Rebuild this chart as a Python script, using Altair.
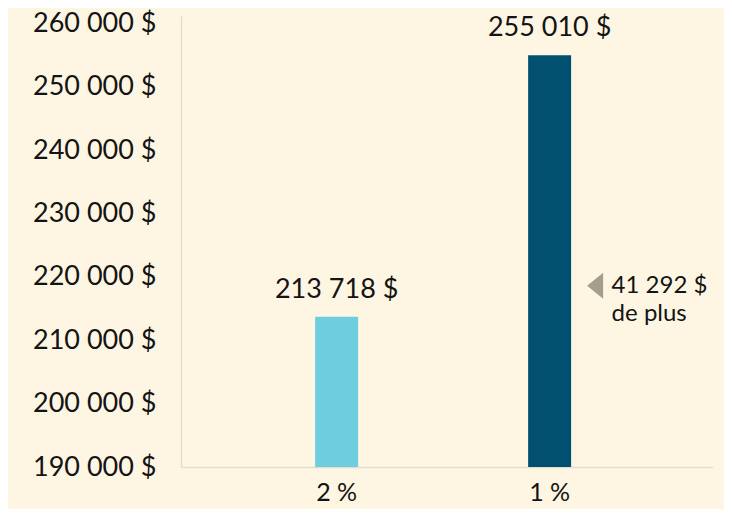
import altair as alt
import pandas as pd

categories = ["2 %", "1 %"]
values = [213718, 255010]
colors = ["#6FCDE0", "#02506F"]
y_ticks = [190000, 200000, 210000, 220000, 230000, 240000, 250000, 260000]
annot_value = 218600
annot_lines = ["41 292 $", "de plus"]

def fmt(v):
    return f"{v:,}".replace(",", " ") + " $"

df = pd.DataFrame({
    "cat": categories,
    "value": values,
    "label": [fmt(v) for v in values],
    "color": colors,
})

ann = pd.DataFrame({"cat": [categories[1]], "value": [annot_value]})

FONT = "Lato"
TXT = "#141414"
AXC = "#E3DDCF"

x_enc = alt.X("cat:N", sort=categories, title=None,
              scale=alt.Scale(paddingInner=0.798, paddingOuter=0.648, align=0.486),
              axis=alt.Axis(labelAngle=0, labelFontSize=25, labelFont=FONT,
                            labelColor=TXT, ticks=False, labelPadding=13,
                            domainColor=AXC, domainWidth=1.5))
y_scale = alt.Scale(domain=[190000, 261200], nice=False, zero=False)

bars = alt.Chart(df).mark_bar(size=43, clip=True).encode(
    x=x_enc,
    y=alt.Y("value:Q", scale=y_scale, title=None,
            axis=alt.Axis(values=y_ticks, grid=False, ticks=False,
                          labelExpr="replace(format(datum.value, ',d'), regexp(',', 'g'), ' ') + ' $'",
                          labelFontSize=27, labelFont=FONT, labelColor=TXT,
                          labelPadding=25, domainColor=AXC, domainWidth=1.5)),
    y2=alt.datum(190000),
    color=alt.Color("color:N", scale=None),
)

labels = alt.Chart(df).mark_text(font=FONT, fontSize=27, color=TXT,
                                 baseline="middle", dy=-27).encode(
    x=alt.X("cat:N", sort=categories),
    y=alt.Y("value:Q", scale=y_scale),
    text="label:N",
)

tri = alt.Chart(ann).mark_point(shape="M0.615,-1L-0.615,0L0.615,1Z", filled=True,
                                size=676, color="#A39E8E", opacity=1,
                                strokeWidth=0, xOffset=45.5).encode(
    x=alt.X("cat:N", sort=categories),
    y=alt.Y("value:Q", scale=y_scale),
)

ann_text = alt.Chart(ann).mark_text(font=FONT, fontSize=24, color=TXT,
                                    align="left", baseline="middle", dx=62,
                                    lineHeight=28).encode(
    x=alt.X("cat:N", sort=categories),
    y=alt.Y("value:Q", scale=y_scale),
    text=alt.value(annot_lines),
)

chart = alt.layer(bars, labels, tri, ann_text).properties(
    width=532, height=451,
    background="#FEF6E3",
    padding={"left": 173, "top": 8, "right": 11, "bottom": 42},
    autosize=alt.AutoSizeParams(type="none"),
).configure_view(stroke=None)

chart.save("out.html", embed_options={"renderer": "svg", "actions": False})
